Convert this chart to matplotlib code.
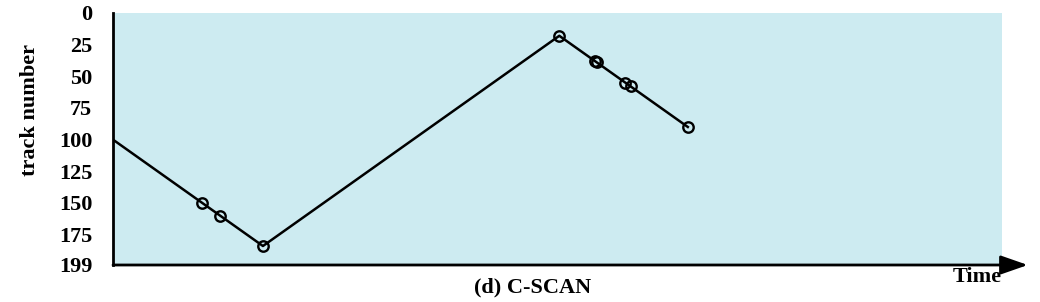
import matplotlib
matplotlib.use("Agg")
import matplotlib.pyplot as plt

# C-SCAN service order (time = cumulative tracks traversed)
times = [0, 50, 60, 84, 250, 270, 271, 287, 290, 322]
tracks = [100, 150, 160, 184, 18, 38, 39, 55, 58, 90]
yticks = [0, 25, 50, 75, 100, 125, 150, 175, 199]
marker_mask = [False, True, True, True, True, True, True, True, True, True]

plt.rcParams['font.family'] = ['Liberation Serif', 'DejaVu Serif']
plt.rcParams['font.weight'] = 'bold'

fig = plt.figure(figsize=(10.4, 3.02), dpi=100)
ax = fig.add_axes([113/1040, 1-265/302, (1002-113)/1040, (265-13)/302])
ax.set_facecolor('#CDEBF1')

ax.plot(times, tracks, color='black', lw=1.8, zorder=3)
mx = [t for t, m in zip(times, marker_mask) if m]
my = [v for v, m in zip(tracks, marker_mask) if m]
ax.plot(mx, my, linestyle='none', marker='o', markersize=7.5,
        markerfacecolor='none', markeredgecolor='black', markeredgewidth=1.7, zorder=4)

ax.set_xlim(0, 498)
ax.set_ylim(199, 0)
ax.set_yticks(yticks)
ax.set_yticklabels([str(v) for v in yticks], fontsize=16, fontweight='bold')
ax.set_xticks([])
ax.tick_params(axis='y', length=0, pad=15)
for s in ['top', 'right', 'bottom']:
    ax.spines[s].set_visible(False)
ax.spines['left'].set_linewidth(2)
ax.spines['left'].set_color('black')

fig.text(30/1040, 1-110/302, 'track number', rotation=90, ha='center', va='center',
         fontsize=16, fontweight='bold')

ax.annotate('', xy=(1.029, 0), xytext=(0, 0), xycoords='axes fraction',
            textcoords='axes fraction',
            arrowprops=dict(arrowstyle='-|>,head_length=0.83,head_width=0.29',
                            lw=2, color='black', mutation_scale=20,
                            shrinkA=0, shrinkB=0),
            annotation_clip=False)

fig.text(1002/1040, 1-277/302, 'Time', ha='right', va='center',
         fontsize=16, fontweight='bold')
fig.text(533/1040, 1-287/302, '(d) C-SCAN', ha='center', va='center',
         fontsize=16, fontweight='bold')

fig.savefig('out.png', dpi=100)
